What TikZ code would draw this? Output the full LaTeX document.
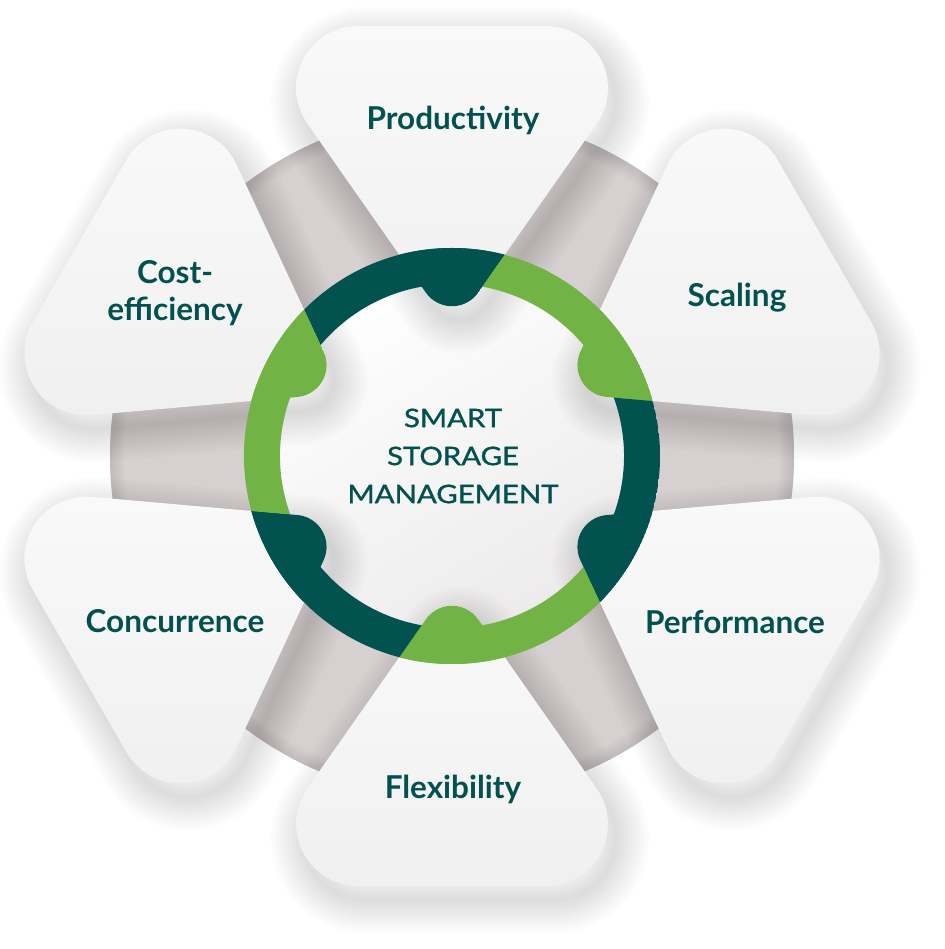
\documentclass[tikz,border=0pt]{standalone}
\usepackage{fontspec}
\setmainfont{Lato}
\newfontfamily\hubfont[FakeStretch=1.15, FakeBold=1.2]{Lato}
\usetikzlibrary{positioning}

\definecolor{darkteal}{HTML}{02524F}
\definecolor{leafgreen}{HTML}{72B345}
\definecolor{spokegrey}{HTML}{D6D0D0}
\definecolor{spokerim}{HTML}{A59E9E}
\definecolor{petaltop}{HTML}{F9F9F9}
\definecolor{petalbottom}{HTML}{F1F0F1}
\definecolor{hubgrey}{HTML}{ECEAEB}
\definecolor{labelteal}{HTML}{03514F}

\begin{document}
\begin{tikzpicture}[x=1pt, y=1pt,
    % rounded petal, axis along +y, wheel centre at the origin
    petalpath/.style={insert path={(26.2,163.4) -- (144.7,332.4)
        arc[start angle=-35, end angle=90, radius=62] -- (-93.9,430)
        arc[start angle=90, end angle=215, radius=62] -- (-26.2,163.4)
        arc[start angle=215, end angle=325, radius=32] -- cycle}},
    % part of the ring that belongs to one petal
    slicepath/.style={insert path={(0,0) -- (90:126) -- (60.85:707)
        -- (120.85:707) -- (150:126) -- cycle}},
    petalfill/.style={top color=petaltop, bottom color=petalbottom},
    petalshadow/.style={draw=black, opacity=0.011, line join=round},
    petallabel/.style={font=\fontsize{31.5}{37}\selectfont\bfseries,
                       text=labelteal, align=center, inner sep=0pt},
    hub/.style={font=\hubfont\fontsize{25.5}{38}\selectfont,
                text=labelteal, align=center, inner sep=0pt}
]

% canvas
\useasboundingbox (-452,-493) rectangle (492,456);
\fill[white] (-452,-493) rectangle (492,456);

% grey spokes behind the petals, darker towards the rim
\fill[spokegrey] (0,0) circle (342);
\begin{scope}
  \clip (0,0) circle (342);
  \foreach \w in {4,8,...,28}
    \draw[spokerim, opacity=0.06, line width=\w] (0,0) circle (342);
\end{scope}

% hub
\shade[top color=white, bottom color=hubgrey, shading angle=30] (0,0) circle (190);

% soft shadows of the petals
\foreach \k in {0,...,5}{
  \begin{scope}[shift={(8,-14)}, rotate=-60*\k]
    \foreach \w in {6,12,...,66}
      \draw[petalshadow, line width=\w] [petalpath];
  \end{scope}
}

% petals
\foreach \k in {0,...,5}
  \shade[petalfill, rotate=-60*\k] [petalpath];

% ring slices with the coloured petal tips
\foreach \k/\tone in {0/darkteal, 1/leafgreen, 2/darkteal,
                      3/leafgreen, 4/darkteal, 5/leafgreen}{
  \begin{scope}[rotate=-60*\k]
    \clip [slicepath];
    \clip (0,0) circle (208);
    \fill[\tone, even odd rule] (0,0) circle (208) (0,0) circle (172);
    \fill[\tone] [petalpath];
  \end{scope}
}

% petal labels
\node[petallabel, anchor=base] (prod) at (1,326) {Productivity};
\node[petallabel, anchor=base] (scal) at (285,149) {Scaling};
\node[petallabel, anchor=base] (perf) at (283,-178) {Performance};
\node[petallabel, anchor=base] (flex) at (1,-342) {Flexibility};
\node[petallabel, anchor=base] (conc) at (-277,-177) {Concurrence};
\node[petallabel] (cost) at (-277,163) {Cost-\\efficiency};

% hub text
\node[hub] (hubtext) at (1,0) {SMART\\STORAGE\\MANAGEMENT};

\end{tikzpicture}
\end{document}
